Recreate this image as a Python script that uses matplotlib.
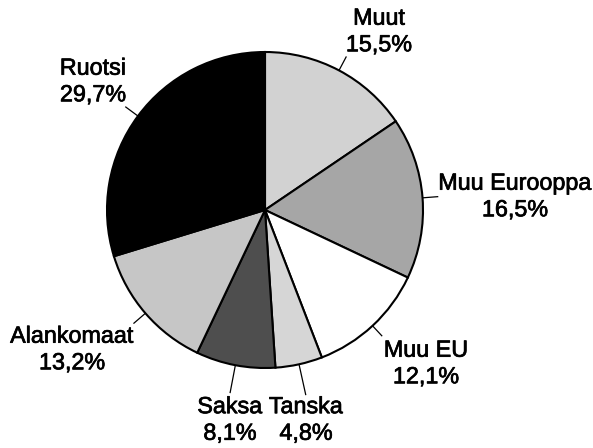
import numpy as np
import matplotlib
matplotlib.use("Agg")
import matplotlib.pyplot as plt
import matplotlib.patheffects as pe

# Data (clockwise from 12 o'clock)
categories = ["Muut", "Muu Eurooppa", "Muu EU", "Tanska", "Saksa", "Alankomaat", "Ruotsi"]
values = [15.5, 16.5, 12.1, 4.8, 8.1, 13.2, 29.7]

# Styling
colors = ["#d2d2d2", "#a6a6a6", "#ffffff", "#d6d6d6", "#4e4e4e", "#c6c6c6", "#000000"]
# label centres in pixels (x, y from top-left)
label_px = [(379, 31.5), (515, 196.5), (426, 363.5), (306, 420), (230, 420), (72, 349.5), (93, 81.5)]
leader_out = [1.10, 1.10, 1.09, 1.20, 1.18, 1.10, 1.10]

W, H = 593, 448
CX, CY, R = 265, 210, 158

fig = plt.figure(figsize=(W / 100, H / 100), dpi=100)
ax = fig.add_axes([0, 0, 1, 1])

wedges, _ = ax.pie(values, colors=colors, startangle=90, counterclock=False,
                   wedgeprops=dict(edgecolor="black", linewidth=1.5))
ax.set_aspect("auto")
ax.set_xlim((0 - CX) / R, (W - CX) / R)
ax.set_ylim((CY - H) / R, (CY - 0) / R)
ax.axis("off")

plt.rcParams["font.family"] = ["Liberation Sans", "DejaVu Sans"]

for w, cat, v, (px, py), ro in zip(wedges, categories, values, label_px, leader_out):
    ang = np.deg2rad((w.theta1 + w.theta2) / 2)
    ax.plot([np.cos(ang), ro * np.cos(ang)], [np.sin(ang), ro * np.sin(ang)],
            color="black", lw=0.9, solid_capstyle="butt")
    txt = f"{cat}\n{v:.1f}".replace(".", ",") + "%"
    ax.text((px - CX) / R, (CY - py) / R, txt, ha="center", va="center",
            fontsize=16.8, family=["Liberation Sans", "DejaVu Sans"],
            linespacing=1.2, color="black",
            path_effects=[pe.withStroke(linewidth=0.5, foreground="black")])

fig.savefig("out.png", dpi=100)
